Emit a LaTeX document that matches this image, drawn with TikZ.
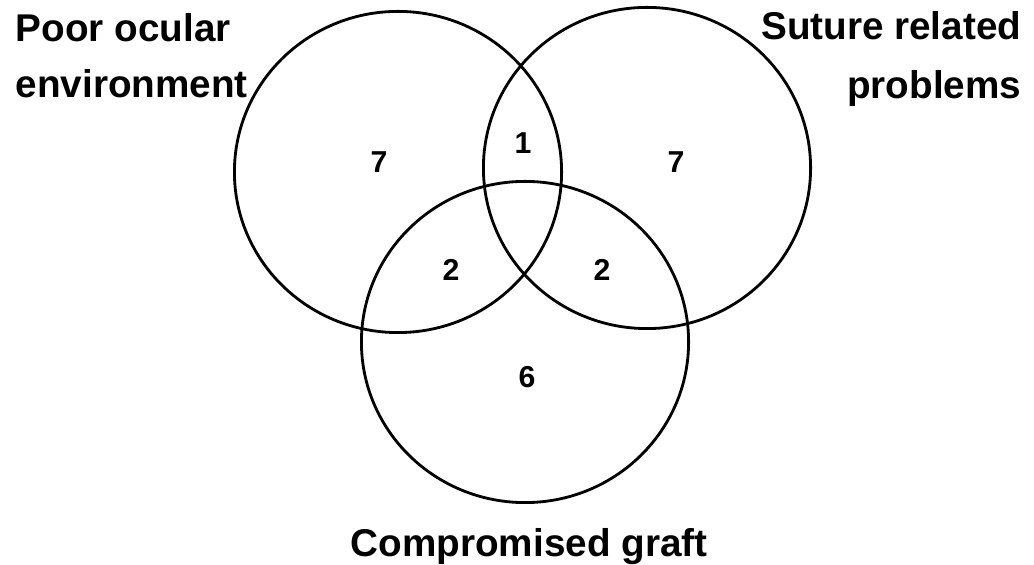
\documentclass[tikz,border=0pt]{standalone}
\usepackage{fontspec}
\setmainfont{Liberation Sans}
\usetikzlibrary{shapes.geometric}
\tikzset{
  ring/.style={ellipse, draw, line width=0.8pt, minimum width=3.27cm, minimum height=3.21cm, inner sep=0pt},
  count/.style={font=\fontsize{8.6}{10}\selectfont\bfseries, inner sep=0pt},
  setname/.style={font=\fontsize{11}{13}\selectfont\bfseries, inner sep=0pt},
}
\begin{document}
\begin{tikzpicture}[x=0.01cm, y=-0.01cm]
  \useasboundingbox (0,0) rectangle (1034,565);
  % the three sets
  \node[ring] (poor) at (398,172) {};
  \node[ring] (suture) at (647,168) {};
  \node[ring] (graft) at (525,342) {};
  % counts in each region
  \node[count] (onlyP) at (379,162) {7};
  \node[count] (onlyS) at (676,162) {7};
  \node[count] (PS) at (523,143) {1};
  \node[count] (PG) at (451,270) {2};
  \node[count] (SG) at (602,270) {2};
  \node[count] (onlyG) at (527,377) {6};
  % set names
  \node[setname, anchor=base west] (poorA) at (15,42) {Poor ocular};
  \node[setname, anchor=base west] (poorB) at (15,98) {environment};
  \node[setname, anchor=base east] (sutureA) at (1022,40) {Suture related};
  \node[setname, anchor=base east] (sutureB) at (1022,99) {problems};
  \node[setname, anchor=base] (graftA) at (529,557) {Compromised graft};
\end{tikzpicture}
\end{document}
